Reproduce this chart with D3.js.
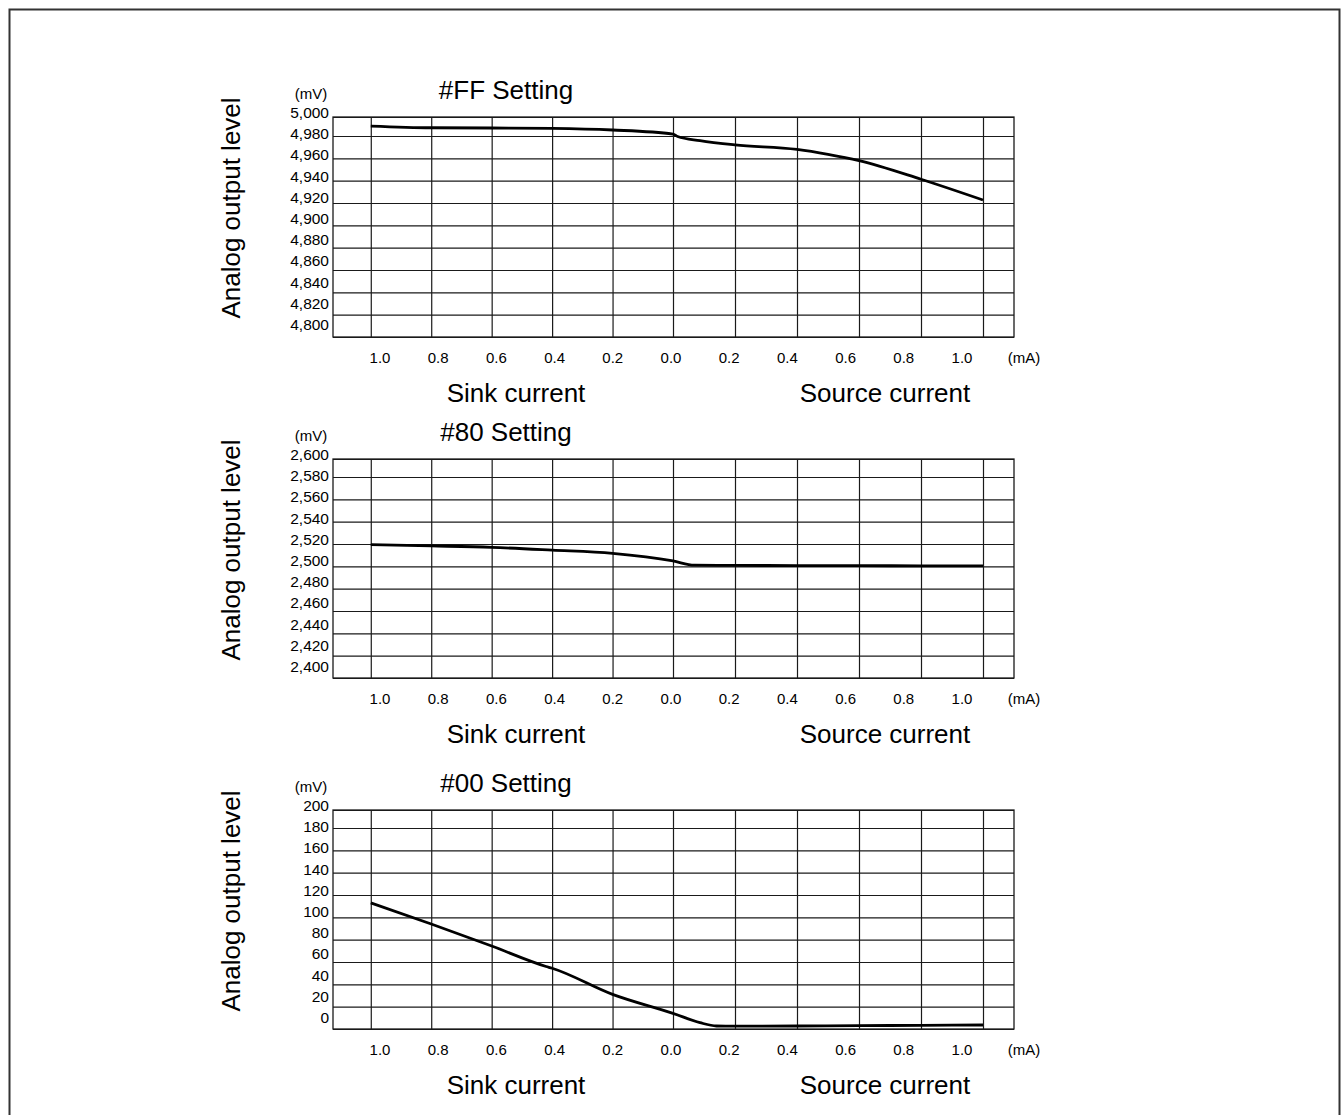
<!DOCTYPE html>
<html>
<head>
<meta charset="utf-8">
<script src="https://cdn.jsdelivr.net/npm/d3@7"></script>
<style>
  body { margin: 0; background: #fff; }
  svg text { font-family: "Liberation Sans", Arial, sans-serif; fill: #000; }
</style>
</head>
<body>
<script>
// sink current is kept as negative mA, source current as positive mA
var currentTicks = [-1.0, -0.8, -0.6, -0.4, -0.2, 0.0, 0.2, 0.4, 0.6, 0.8, 1.0];
var currentLabels = ["1.0", "0.8", "0.6", "0.4", "0.2", "0.0", "0.2", "0.4", "0.6", "0.8", "1.0"];

var ffTicks = [5000, 4980, 4960, 4940, 4920, 4900, 4880, 4860, 4840, 4820, 4800];
var ffCurrent = [-1.0, -0.8, -0.6, -0.4, -0.2, 0.0, 0.015, 0.087, 0.2, 0.4, 0.5, 0.6, 0.8, 1.0];
var ffLevel = [4990.5, 4988.7, 4988.4, 4988, 4986.3, 4982, 4979.5, 4975.8, 4972, 4968, 4963.6, 4958, 4941.3, 4922.7];

var h80Ticks = [2600, 2580, 2560, 2540, 2520, 2500, 2480, 2460, 2440, 2420, 2400];
var h80Current = [-1.0, -0.8, -0.6, -0.4, -0.2, 0.0, 0.069, 0.2, 0.4, 0.6, 0.8, 1.0];
var h80Level = [2519.4, 2518.3, 2517, 2514.5, 2511.6, 2504.8, 2501, 2500.8, 2500.7, 2500.6, 2500.5, 2500.5];

var h00Ticks = [200, 180, 160, 140, 120, 100, 80, 60, 40, 20, 0];
var h00Current = [-1.0, -0.8, -0.6, -0.42, -0.4, -0.2, 0.0, 0.087, 0.14, 0.2, 0.4, 0.6, 0.8, 1.0];
var h00Level = [113, 94, 74.3, 56, 54.4, 31, 14, 5.7, 2.7, 2.5, 2.7, 3, 3.3, 3.6];

var width = 1343, height = 1115;
var plotLeft = 333, plotRight = 1014;

var svg = d3.select("body").append("svg")
    .attr("width", width)
    .attr("height", height);

// outer frame (bottom edge runs off the page)
svg.append("rect")
    .attr("x", 9.5).attr("y", 9.5)
    .attr("width", 1330).attr("height", 1200)
    .attr("fill", "none")
    .attr("stroke", "#333")
    .attr("stroke-width", 2);

var panels = [
    {title: "#FF Setting", ticks: ffTicks, current: ffCurrent, level: ffLevel, top: 117, bottom: 337},
    {title: "#80 Setting", ticks: h80Ticks, current: h80Current, level: h80Level, top: 459, bottom: 678},
    {title: "#00 Setting", ticks: h00Ticks, current: h00Current, level: h00Level, top: 810, bottom: 1029}
];

panels.forEach(drawPanel);

function drawPanel(p) {
    var g = svg.append("g");
    var h = p.bottom - p.top;

    var x = d3.scaleLinear()
        .domain([-1.125, 0, 1.1])
        .range([plotLeft, 673, plotRight]);

    // first grid row is a little shorter than the rest
    var y = d3.scaleLinear()
        .domain([p.ticks[10], p.ticks[1], p.ticks[0]])
        .range([p.bottom, p.bottom - 201, p.top]);

    // vertical grid
    g.append("g")
        .attr("transform", "translate(0," + p.bottom + ")")
        .call(d3.axisBottom(x).tickValues(currentTicks).tickSize(-h).tickFormat(""))
        .call(function(a) {
            a.select(".domain").remove();
            a.selectAll("line").attr("stroke", "#1a1a1a").attr("stroke-width", 1.2);
        });

    // horizontal grid
    g.append("g")
        .attr("transform", "translate(" + plotLeft + ",0)")
        .call(d3.axisLeft(y).tickValues(p.ticks).tickSize(-(plotRight - plotLeft)).tickFormat(""))
        .call(function(a) {
            a.select(".domain").remove();
            a.selectAll("line").attr("stroke", "#1a1a1a").attr("stroke-width", 1.2);
        });

    g.append("rect")
        .attr("x", plotLeft).attr("y", p.top)
        .attr("width", plotRight - plotLeft).attr("height", h)
        .attr("fill", "none")
        .attr("stroke", "#1a1a1a")
        .attr("stroke-width", 1.3);

    // y tick labels sit on their own even spacing
    var yLab = d3.scalePoint()
        .domain(p.ticks)
        .range([p.top - 4.5, p.top + 207.5]);

    g.selectAll(".ylab")
        .data(p.ticks)
        .enter().append("text")
        .attr("class", "ylab")
        .attr("x", 329)
        .attr("y", function(d) { return yLab(d); })
        .attr("dy", "0.36em")
        .attr("text-anchor", "end")
        .attr("font-size", 15.5)
        .text(function(d) { return d3.format(",")(d); });

    // x tick labels
    var xLab = d3.scalePoint()
        .domain(d3.range(currentLabels.length))
        .range([380, 962]);

    g.selectAll(".xlab")
        .data(currentLabels)
        .enter().append("text")
        .attr("class", "xlab")
        .attr("x", function(d, i) { return xLab(i); })
        .attr("y", p.bottom + 26)
        .attr("text-anchor", "middle")
        .attr("font-size", 15)
        .text(function(d) { return d; });

    g.append("text")
        .attr("x", 1024).attr("y", p.bottom + 26)
        .attr("text-anchor", "middle")
        .attr("font-size", 15)
        .text("(mA)");

    g.append("text")
        .attr("x", 311).attr("y", p.top - 18)
        .attr("text-anchor", "middle")
        .attr("font-size", 15)
        .text("(mV)");

    g.append("text")
        .attr("x", 506).attr("y", p.top - 18)
        .attr("text-anchor", "middle")
        .attr("font-size", 26)
        .text(p.title);

    g.append("text")
        .attr("x", 516).attr("y", p.bottom + 65)
        .attr("text-anchor", "middle")
        .attr("font-size", 26)
        .text("Sink current");

    g.append("text")
        .attr("x", 885).attr("y", p.bottom + 65)
        .attr("text-anchor", "middle")
        .attr("font-size", 26)
        .text("Source current");

    g.append("text")
        .attr("transform", "translate(240," + (p.top + 91) + ") rotate(-90)")
        .attr("text-anchor", "middle")
        .attr("font-size", 26)
        .text("Analog output level");

    // curve
    var line = d3.line()
        .x(function(d) { return x(d[0]); })
        .y(function(d) { return y(d[1]); })
        .curve(d3.curveMonotoneX);

    g.append("path")
        .datum(d3.zip(p.current, p.level))
        .attr("fill", "none")
        .attr("stroke", "#000")
        .attr("stroke-width", 2.8)
        .attr("d", line);
}
</script>
</body>
</html>
